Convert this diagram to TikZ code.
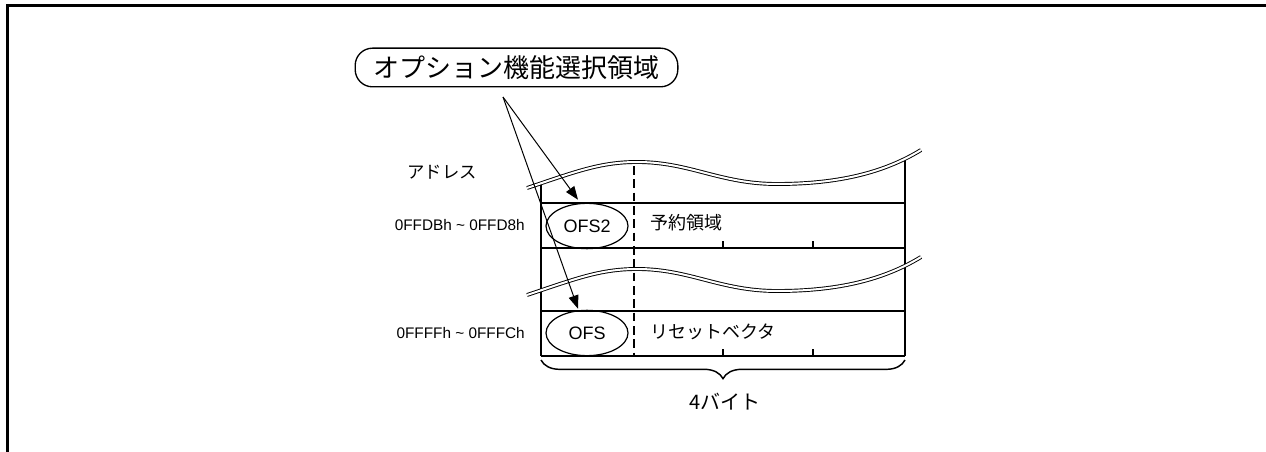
\documentclass[tikz,border=0pt]{standalone}
\usepackage{fontspec}
\setmainfont{Liberation Sans}
\newfontfamily\cjk{Noto Sans CJK JP}
\usetikzlibrary{arrows.meta,decorations.pathreplacing,shapes.geometric,calc}
\begin{document}
\begin{tikzpicture}[x=0.75pt,y=-0.75pt,
  frameline/.style={line width=2.25pt,line cap=rect},
  tabline/.style={line width=1.6pt},
  waveline/.style={line width=0.7pt,double=white,double distance=1.5pt},
  dashline/.style={line width=1.6pt,dash pattern=on 6.5pt off 3.5pt},
  arr/.style={line width=0.75pt,-{Triangle[length=10pt,width=7.5pt]}},
  oval/.style={draw,ellipse,line width=0.9pt,minimum width=61.5pt,minimum height=34pt,inner sep=0pt,font=\fontsize{13.5}{16}\selectfont},
  celltext/.style={anchor=west,inner sep=0pt,font=\cjk\fontsize{13.5}{16}\selectfont},
  addrtext/.style={anchor=east,inner sep=0pt,font=\fontsize{11.5}{14}\selectfont},
  calloutbox/.style={draw,line width=1pt,rounded corners=13pt,minimum width=242pt,minimum height=29pt,inner sep=0pt,font=\cjk\fontsize{19.5}{22}\selectfont}
]
\useasboundingbox (0,0) rectangle (1266,452);
% frame
\draw[frameline] (7.5,452) -- (7.5,5.3) -- (1266,5.3);

% table verticals
\coordinate (L1) at (541,184);
\coordinate (L2) at (541,356);
\coordinate (R1) at (905,158);
\coordinate (R2) at (905,356);
\coordinate (D1) at (634,166);
\coordinate (D2) at (634,356);
\draw[tabline] (L1) -- (L2);
\draw[tabline] (R1) -- (R2);
\draw[dashline] (D1) -- (D2);

% horizontals
\foreach \yy in {203,248,311,356}{
  \draw[tabline] (541,\yy) -- (905,\yy);
}
% ticks
\foreach \yy in {248,356}{
  \draw[tabline] (723,\yy) -- (723,\yy-7);
  \draw[tabline] (813,\yy) -- (813,\yy-7);
}

% waves
\draw[waveline] (527,188) .. controls (575,172) and (600,162) .. (637,162) .. controls (690,162) and (720,184) .. (777,184) .. controls (840,184) and (885,172) .. (921,150);
\begin{scope}[shift={(0,107)}]
\draw[waveline] (527,188) .. controls (575,172) and (600,162) .. (637,162) .. controls (690,162) and (720,184) .. (777,184) .. controls (840,184) and (885,172) .. (921,150);
\end{scope}

% brace
\draw[line width=1.1pt,decorate,decoration={brace,amplitude=14pt,mirror}] (541,360) -- (905,360);

% nodes
\node[oval] (ofs2) at (587,226) {OFS2};
\node[oval] (ofs) at (587,333) {OFS};
\node[celltext] (res) at (650,223) {予約領域};
\node[celltext] (rst) at (650,332) {リセットベクタ};
\node[addrtext] (a1) at (525,225) {0FFDBh \textasciitilde{} 0FFD8h};
\node[addrtext] (a2) at (525,333) {0FFFFh \textasciitilde{} 0FFFCh};
\node[font=\cjk\fontsize{13}{16}\selectfont,inner sep=0pt] (addr) at (442,172) {アドレス};
\node[font=\cjk\fontsize{15}{18}\selectfont,inner sep=0pt] (bytes) at (725,402) {4バイト};
\node[calloutbox] (callout) at (516.5,67.5) {オプション機能選択領域};

% arrows
\coordinate (src) at (503,97);
\draw[arr] (src) -- ($(ofs2.north)+(-9,-3)$);
\draw[arr] (src) -- ($(ofs.north)+(-9,-1)$);
\end{tikzpicture}
\end{document}
